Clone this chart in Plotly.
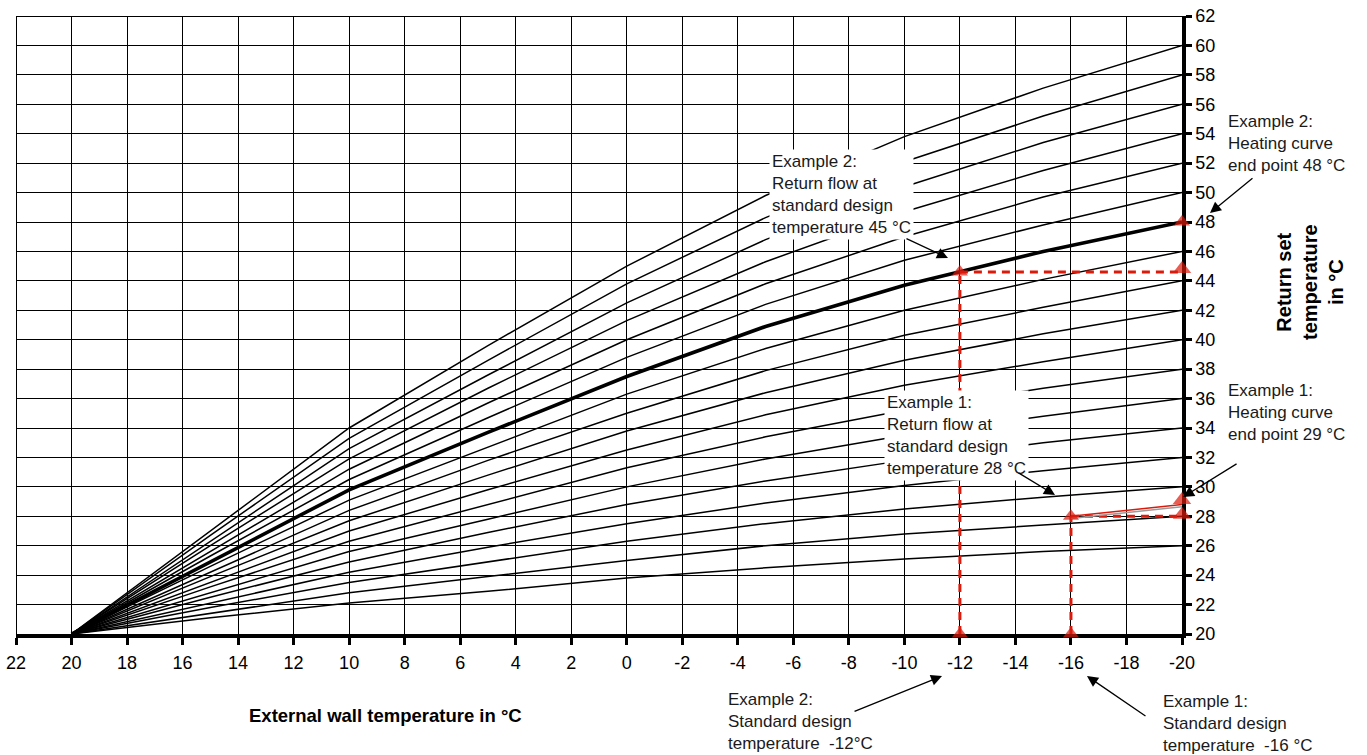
import plotly.graph_objects as go

# ---------------- data ----------------
outside_temp = [20, 15, 10, 5, 0, -5, -10, -15, -20]

curve_end_points = [26, 28, 30, 32, 34, 36, 38, 40, 42, 44, 46, 48, 50, 52, 54, 56, 58, 60]
curve_values = [
    [20, 21.1, 22.1, 22.9, 23.8, 24.5, 25.1, 25.6, 26],
    [20, 21.4, 22.8, 23.9, 25.0, 26.0, 26.8, 27.4, 28],
    [20, 21.8, 23.5, 24.9, 26.3, 27.5, 28.5, 29.3, 30],
    [20, 22.1, 24.2, 25.9, 27.5, 28.9, 30.1, 31.1, 32],
    [20, 22.5, 24.9, 26.9, 28.8, 30.4, 31.8, 33.0, 34],
    [20, 22.8, 25.6, 27.8, 30.0, 31.9, 33.5, 34.8, 36],
    [20, 23.2, 26.3, 28.8, 31.3, 33.4, 35.2, 36.7, 38],
    [20, 23.5, 27.0, 29.8, 32.5, 34.9, 36.9, 38.5, 40],
    [20, 23.9, 27.7, 30.8, 33.8, 36.4, 38.6, 40.4, 42],
    [20, 24.2, 28.4, 31.8, 35.0, 37.9, 40.3, 42.2, 44],
    [20, 24.6, 29.1, 32.7, 36.3, 39.4, 42.0, 44.1, 46],
    [20, 24.9, 29.8, 33.7, 37.5, 40.9, 43.7, 46.0, 48],
    [20, 25.3, 30.5, 34.7, 38.8, 42.4, 45.4, 47.8, 50],
    [20, 25.6, 31.2, 35.7, 40.0, 43.8, 47.0, 49.7, 52],
    [20, 26.0, 31.9, 36.7, 41.3, 45.3, 48.7, 51.5, 54],
    [20, 26.3, 32.6, 37.6, 42.5, 46.8, 50.4, 53.4, 56],
    [20, 26.7, 33.3, 38.6, 43.8, 48.3, 52.1, 55.2, 58],
    [20, 27.0, 34.0, 39.6, 45.0, 49.8, 53.8, 57.1, 60],
]
bold_end_point = 48

# example 2 (design -12 °C, end point 48 °C, return 44.6 °C)
ex2_design_x = [-12, -12]
ex2_design_y = [20, 44.6]
ex2_return_x = [-12, -20]
ex2_return_y = [44.6, 44.6]
# example 1 (design -16 °C, end point 29 °C, return 28 °C)
ex1_design_x = [-16, -16]
ex1_design_y = [20, 28.0]
ex1_return_x = [-16, -20]
ex1_return_y = [28.0, 28.0]
ex1_curve_x = [-16, -20]
ex1_curve_y = [28.0, 28.8]
ex1_curve_shadow_y = [27.85, 28.65]

marker_x = [-12, -16, -12, -20, -20, -16, -20, -20]
marker_y = [20, 20, 44.6, 44.8, 48.0, 28.0, 29.1, 28.1]
marker_size = [14, 14, 14, 16, 14, 14, 16, 16]

x_tick_vals = [22, 20, 18, 16, 14, 12, 10, 8, 6, 4, 2, 0, -2, -4, -6, -8, -10, -12, -14, -16, -18, -20]
x_tick_text = ["22", "20", "18", "16", "14", "12", "10", "8", "6", "4", "2", "0", "-2", "-4", "-6",
               "-8", "-10", "-12", "-14", "-16", "-18", "-20"]
y_tick_vals = list(range(20, 63, 2))

RED = "#dc1a0c"
FONT = "Arial, Liberation Sans, sans-serif"

fig = go.Figure()

for end, vals in zip(curve_end_points, curve_values):
    bold = end == bold_end_point
    fig.add_trace(go.Scatter(x=outside_temp, y=vals, mode="lines",
                             line=dict(color="black", width=3.6 if bold else 1.5),
                             hoverinfo="skip", showlegend=False))

dash = "8px,6px"
for xs, ys in [(ex2_design_x, ex2_design_y), (ex2_return_x, ex2_return_y),
               (ex1_design_x, ex1_design_y), (ex1_return_x, ex1_return_y)]:
    fig.add_trace(go.Scatter(x=xs, y=ys, mode="lines",
                             line=dict(color=RED, width=3, dash=dash),
                             hoverinfo="skip", showlegend=False))

fig.add_trace(go.Scatter(x=ex1_curve_x, y=ex1_curve_shadow_y, mode="lines",
                         line=dict(color="#9a9a9a", width=1.5), hoverinfo="skip", showlegend=False))
fig.add_trace(go.Scatter(x=ex1_curve_x, y=ex1_curve_y, mode="lines",
                         line=dict(color=RED, width=1.5), hoverinfo="skip", showlegend=False))

fig.add_trace(go.Scatter(x=marker_x, y=marker_y, mode="markers",
                         marker=dict(symbol="triangle-up", size=marker_size, color=RED,
                                     line=dict(width=0)),
                         cliponaxis=False, hoverinfo="skip", showlegend=False))

# borders (top and left)
fig.add_shape(type="line", xref="x", yref="y", x0=22, x1=-20, y0=62, y1=62,
              line=dict(color="black", width=2))
fig.add_shape(type="line", xref="x", yref="y", x0=22, x1=22, y0=20, y1=62,
              line=dict(color="black", width=2))

ann_font = dict(family=FONT, size=17, color="#1a1a1a")

# boxed labels inside the plot (data coordinates)
for txt, x, y in [
    ("Example 2:<br>Return flow at<br>standard design<br>temperature 45 °C", -5.12, 49.88),
    ("Example 1:<br>Return flow at<br>standard design<br>temperature 28 °C", -9.27, 33.5),
]:
    fig.add_annotation(text=txt, x=x, y=y, xref="x", yref="y", xanchor="left", yanchor="middle",
                       align="left", showarrow=False, font=ann_font, bgcolor="white", borderpad=2)

# labels outside the plot (paper coordinates)
for txt, x, y in [
    ("Example 2:<br>Heating curve<br>end point 48 °C", 1.0380, 0.7929),
    ("Example 1:<br>Heating curve<br>end point 29 °C", 1.0380, 0.3581),
    ("Example 2:<br>Standard design<br>temperature\u00a0 -12°C", 0.6090, -0.1408),
    ("Example 1:<br>Standard design<br>temperature\u00a0 -16 °C", 0.9822, -0.1445),
]:
    fig.add_annotation(text=txt, x=x, y=y, xref="paper", yref="paper", xanchor="left",
                       yanchor="middle", align="left", showarrow=False, font=ann_font)

# arrows: head position (paper) and tail offset (pixels)
for hx, hy, ax, ay in [
    (1.0240, 0.6812, 44, -36),
    (0.7993, 0.6084, -43, -20),
    (0.8911, 0.2249, -38, -23),
    (1.0009, 0.2217, 55, -34),
    (0.7942, -0.0680, -89, 36),
    (0.9185, -0.0680, 60, 41),
]:
    fig.add_annotation(text="", x=hx, y=hy, xref="paper", yref="paper", ax=ax, ay=ay,
                       axref="pixel", ayref="pixel", showarrow=True, arrowhead=2, arrowsize=1.7,
                       arrowwidth=1.3, arrowcolor="black", standoff=0, startstandoff=0)

# axis titles
fig.add_annotation(text="<b>External wall temperature in °C</b>", x=0.3165, y=-0.1311,
                   xref="paper", yref="paper", xanchor="center", yanchor="middle",
                   showarrow=False, font=dict(family=FONT, size=18.5, color="black"))
fig.add_annotation(text="<b>Return set<br>temperature<br>in °C</b>", x=1.1098, y=0.5696,
                   xref="paper", yref="paper", xanchor="center", yanchor="middle",
                   showarrow=False, textangle=-90,
                   font=dict(family=FONT, size=20, color="black"))

fig.update_xaxes(range=[22, -20], autorange=False, tickvals=x_tick_vals, ticktext=x_tick_text,
                 showgrid=True, gridcolor="black", gridwidth=1.3, zeroline=False,
                 showline=True, linecolor="black", linewidth=3.5, automargin=False,
                 ticks="outside", ticklen=7, tickwidth=3, tickcolor="black", ticklabelstandoff=3,
                 ticklabeloverflow="allow",
                 tickfont=dict(family=FONT, size=18, color="black"), layer="below traces")
fig.update_yaxes(range=[20, 62], autorange=False, tickvals=y_tick_vals, side="right",
                 showgrid=True, gridcolor="black", gridwidth=1.3, zeroline=False,
                 showline=True, linecolor="black", linewidth=3.5, automargin=False,
                 ticks="outside", ticklen=6, tickwidth=3, tickcolor="black",
                 ticklabeloverflow="allow",
                 tickfont=dict(family=FONT, size=18, color="black"), layer="below traces")

fig.update_layout(width=1367, height=755, margin=dict(l=16, r=185, t=16, b=121),
                  paper_bgcolor="white", plot_bgcolor="white", showlegend=False,
                  font=dict(family=FONT))

# remove the default page margin so the figure fills the window exactly
fig.write_html("out.html", config={"displayModeBar": False},
               post_script="document.body.style.margin='0';")
